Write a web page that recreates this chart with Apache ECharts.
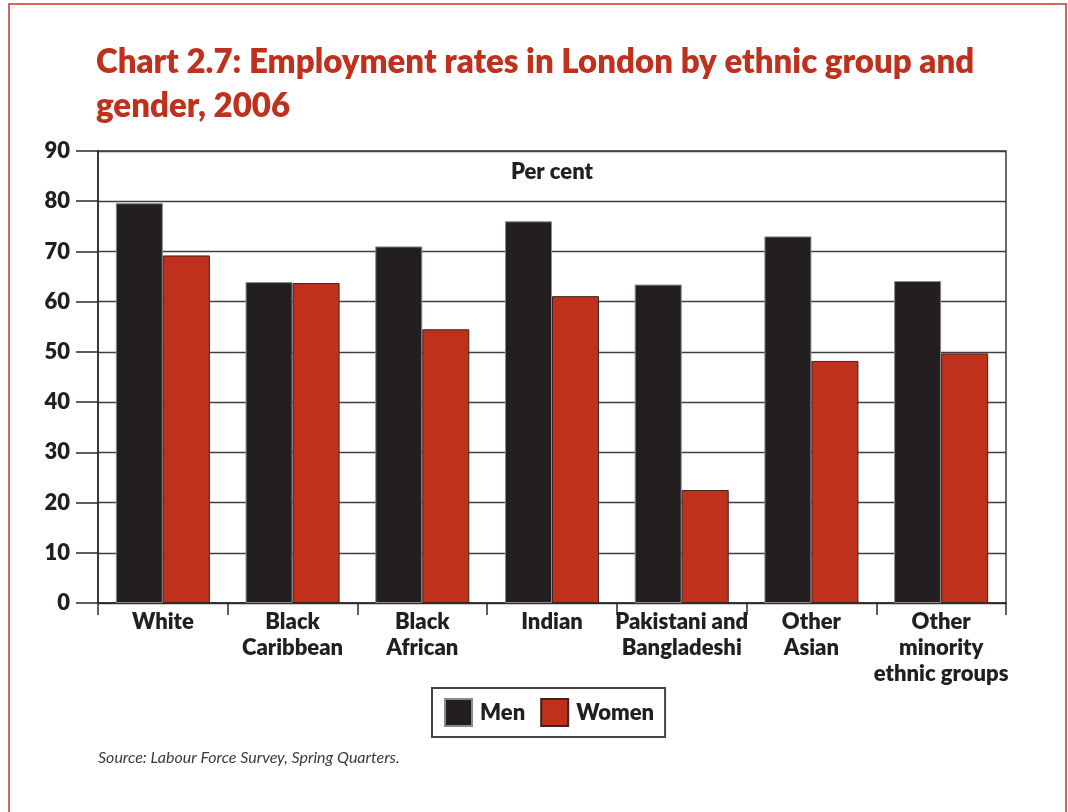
<!DOCTYPE html>
<html>
<head>
<meta charset="utf-8">
<title>Employment rates in London by ethnic group and gender, 2006</title>
<script src="https://cdn.jsdelivr.net/npm/echarts@6/dist/echarts.min.js"></script>
<style>
  html, body { margin: 0; padding: 0; background: #ffffff; }
  #chart { width: 1068px; height: 812px; }
</style>
</head>
<body>
<div id="chart"></div>
<script>
// Employment rates (per cent), London, 2006
const categories = [
  'White',
  'Black\nCaribbean',
  'Black\nAfrican',
  'Indian',
  'Pakistani and\nBangladeshi',
  'Other\nAsian',
  'Other\nminority\nethnic groups'
];
const men   = [79.6, 63.9, 71.0, 76.0, 63.4, 73.0, 64.1];
const women = [69.2, 63.7, 54.5, 61.1, 22.5, 48.2, 49.7];
const yTicks = [0, 10, 20, 30, 40, 50, 60, 70, 80, 90];

const FONT = 'Lato, "DejaVu Sans", sans-serif';
const HEAVY = 800;
const INK = '#231f20';
const RED = '#bf311c';

const chart = echarts.init(document.getElementById('chart'), null, { renderer: 'canvas' });

chart.setOption({
  backgroundColor: '#ffffff',
  animation: false,
  title: {
    text: 'Chart 2.7: Employment rates in London by ethnic group and\ngender, 2006',
    left: 96,
    top: 40,
    padding: 0,
    textStyle: {
      fontFamily: FONT,
      fontWeight: HEAVY,
      fontSize: 33,
      lineHeight: 44,
      color: RED
    }
  },
  graphic: [
    {
      type: 'rect',
      silent: true,
      shape: { x: 9, y: 4, width: 1057, height: 900 },
      style: { fill: 'none', stroke: '#d2675a', lineWidth: 2 }
    },
    {
      type: 'text',
      silent: true,
      x: 552, y: 172,
      style: {
        text: 'Per cent',
        fontFamily: FONT, fontWeight: HEAVY, fontSize: 22,
        fill: INK, align: 'center', verticalAlign: 'middle'
      }
    },
    {
      type: 'text',
      silent: true,
      x: 98, y: 758,
      style: {
        text: 'Source: Labour Force Survey, Spring Quarters.',
        fontFamily: FONT, fontStyle: 'italic', fontWeight: 'normal', fontSize: 16,
        fill: '#3a3a3a', align: 'left', verticalAlign: 'middle'
      }
    }
  ],
  legend: {
    data: ['Men', 'Women'],
    left: 432,
    top: 688,
    orient: 'horizontal',
    padding: [10, 11, 10, 12],
    itemGap: 15,
    itemWidth: 27,
    itemHeight: 27,
    icon: 'rect',
    borderColor: '#444',
    borderWidth: 2,
    borderRadius: 0,
    selectedMode: false,
    textStyle: {
      fontFamily: FONT, fontWeight: HEAVY, fontSize: 22,
      color: INK, padding: [0, 0, 0, 3]
    }
  },
  grid: {
    left: 98,
    right: 62,
    top: 151,
    bottom: 209,
    show: true,
    borderColor: '#3a3a3a',
    borderWidth: 1.5,
    containLabel: false
  },
  xAxis: {
    type: 'category',
    data: categories,
    boundaryGap: true,
    axisLine: { show: true, lineStyle: { color: '#2a2a2a', width: 1.5 } },
    axisTick: { show: true, length: 12, alignWithLabel: false, lineStyle: { color: '#2a2a2a', width: 1.5 } },
    axisLabel: {
      interval: 0,
      margin: 6,
      fontFamily: FONT, fontWeight: HEAVY, fontSize: 22, lineHeight: 26,
      color: INK, align: 'center'
    },
    splitLine: { show: false }
  },
  yAxis: {
    type: 'value',
    min: yTicks[0],
    max: yTicks[yTicks.length - 1],
    interval: 10,
    axisLine: { show: true, lineStyle: { color: '#2a2a2a', width: 1.5 } },
    axisTick: { show: true, inside: false, length: 22, lineStyle: { color: '#2a2a2a', width: 1.5 } },
    axisLabel: {
      margin: 28,
      fontFamily: FONT, fontWeight: HEAVY, fontSize: 22,
      color: INK,
      formatter: function (v) { return yTicks.indexOf(v) >= 0 ? String(v) : ''; }
    },
    splitLine: { show: true, lineStyle: { color: '#3f3f3f', width: 1.3 } }
  },
  series: [
    {
      name: 'Men',
      type: 'bar',
      data: men,
      barGap: '0%',
      barCategoryGap: '27.5%',
      itemStyle: { color: INK, borderColor: '#8a8a8a', borderWidth: 1 }
    },
    {
      name: 'Women',
      type: 'bar',
      data: women,
      barGap: '0%',
      barCategoryGap: '27.5%',
      itemStyle: { color: RED, borderColor: '#3a2520', borderWidth: 1 }
    }
  ]
});
</script>
</body>
</html>
